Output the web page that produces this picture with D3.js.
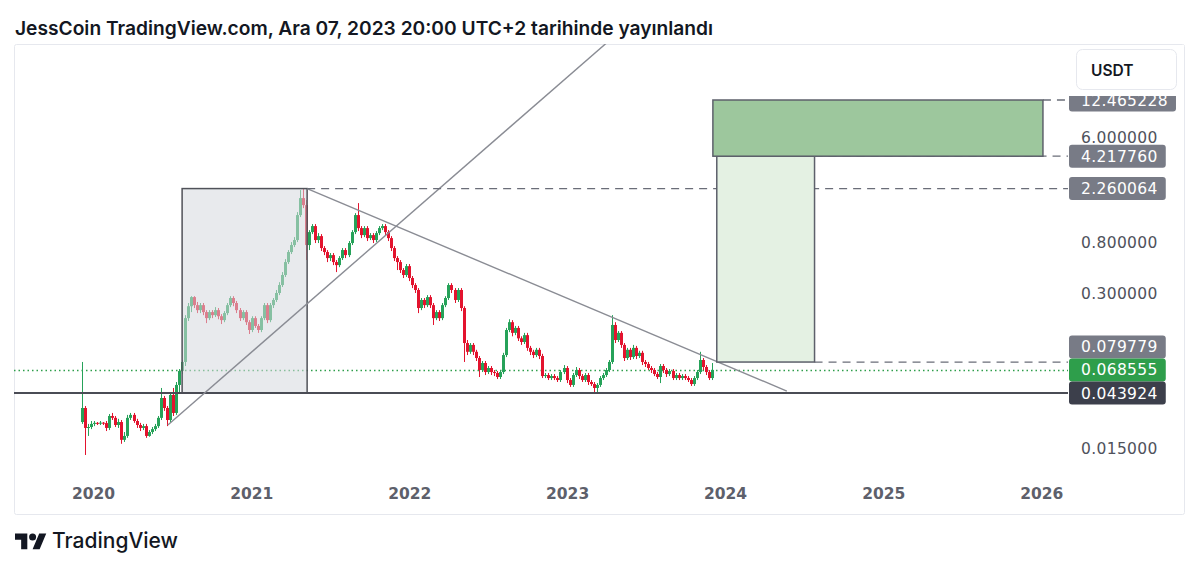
<!DOCTYPE html>
<html><head><meta charset="utf-8">
<script src="https://cdn.jsdelivr.net/npm/d3@7"></script>
<style>
html,body{margin:0;padding:0;background:#fff;}
svg{display:block;}
</style></head><body>
<svg id="c" width="1200" height="570"></svg>
<script>
// ---------- DATA ----------
const titleText = "JessCoin TradingView.com, Ara 07, 2023 20:00 UTC+2 tarihinde yayınlandı";
const firstWeek = "2019-12-09";
const firstOpen = 0.0251;
const closes = [
0.0329,0.0224,0.0228,0.0242,0.0247,0.0245,0.0248,0.0246,0.0224,0.0282,
0.0272,0.0237,0.0251,0.0178,0.0192,0.0272,0.0288,0.0256,0.0237,0.0224,
0.0232,0.0192,0.0207,0.0219,0.0232,0.0272,0.0399,0.0329,0.0261,0.0423,
0.0299,0.0513,0.0671,0.0799,0.186,0.234,0.279,0.239,0.217,0.239,
0.209,0.186,0.209,0.197,0.217,0.193,0.179,0.205,0.239,0.274,
0.249,0.217,0.186,0.209,0.172,0.148,0.186,0.160,0.148,0.186,
0.239,0.179,0.239,0.264,0.302,0.352,0.427,0.548,0.665,0.761,
0.838,1.356,1.881,1.643,0.761,0.977,1.097,0.838,0.904,0.718,
0.665,0.592,0.627,0.548,0.517,0.592,0.691,0.627,0.791,0.977,
1.356,1.055,0.922,1.055,0.870,0.922,0.838,0.958,1.055,1.097,
0.977,0.870,0.718,0.592,0.548,0.470,0.427,0.507,0.403,0.352,
0.320,0.226,0.264,0.239,0.279,0.239,0.186,0.209,0.186,0.239,
0.274,0.352,0.320,0.264,0.320,0.226,0.1151,0.0972,0.111,0.0972,
0.0862,0.0684,0.0783,0.0658,0.0711,0.0658,0.0646,0.0598,0.0658,0.0913,
0.148,0.172,0.140,0.154,0.126,0.1174,0.134,0.1048,0.0972,0.0913,
0.101,0.0896,0.0609,0.0621,0.0586,0.0609,0.0586,0.0564,0.0658,0.0711,
0.0564,0.0513,0.0621,0.0684,0.0609,0.0564,0.0621,0.0543,0.0522,0.0484,
0.0513,0.0586,0.0621,0.0684,0.0799,0.163,0.122,0.140,0.111,0.0862,
0.101,0.0878,0.1048,0.0896,0.0953,0.0799,0.0768,0.0711,0.0684,0.0633,
0.0598,0.0739,0.0684,0.0633,0.0671,0.0586,0.0621,0.0586,0.0609,0.0586,
0.0564,0.0522,0.0586,0.0658,0.0830,0.0725,0.0658,0.0586,0.068555
];
const highs = [
0.0799,0.0342,0.0242,0.0256,0.0256,0.0251,0.0256,0.0251,0.0256,0.0293,
0.0299,0.0282,0.0267,0.0261,0.0207,0.0288,0.0299,0.0299,0.0267,0.0247,
0.0242,0.0242,0.0215,0.0228,0.0242,0.0282,0.0484,0.0415,0.0342,0.0439,
0.0484,0.0543,0.0697,0.0830,0.197,0.249,0.284,0.284,0.254,0.249,
0.249,0.217,0.217,0.217,0.230,0.226,0.201,0.213,0.249,0.284,
0.284,0.259,0.226,0.217,0.217,0.179,0.193,0.193,0.166,0.193,
0.249,0.249,0.249,0.274,0.320,0.372,0.452,0.580,0.691,0.806,
0.887,1.436,2.195,2.260064,1.810,1.015,1.140,1.140,0.958,0.940,
0.746,0.691,0.652,0.652,0.570,0.615,0.718,0.718,0.822,1.015,
1.408,1.708,1.097,1.097,1.097,0.958,0.958,0.996,1.097,1.140,
1.140,1.015,0.904,0.746,0.615,0.570,0.488,0.528,0.528,0.419,
0.365,0.332,0.274,0.274,0.290,0.290,0.249,0.217,0.217,0.249,
0.284,0.365,0.365,0.332,0.332,0.332,0.234,0.122,0.1151,0.1151,
0.101,0.0896,0.0814,0.0814,0.0739,0.0739,0.0684,0.0671,0.0684,0.0953,
0.154,0.182,0.179,0.160,0.160,0.131,0.140,0.140,0.1089,0.101,
0.1048,0.1048,0.0935,0.0646,0.0646,0.0633,0.0633,0.0609,0.0684,0.0753,
0.0739,0.0586,0.0646,0.0725,0.0711,0.0633,0.0646,0.0646,0.0564,0.0543,
0.0532,0.0609,0.0646,0.0711,0.0830,0.197,0.172,0.145,0.145,0.1151,
0.1048,0.1048,0.111,0.1089,0.0991,0.0991,0.0830,0.0799,0.0739,0.0711,
0.0658,0.0768,0.0768,0.0711,0.0697,0.0697,0.0646,0.0646,0.0633,0.0633,
0.0609,0.0586,0.0609,0.0684,0.0972,0.0862,0.0753,0.0684,0.0783
];
const lows = [
0.0242,0.0133,0.0192,0.0219,0.0232,0.0237,0.0237,0.0237,0.0211,0.0215,
0.0261,0.0228,0.0224,0.0165,0.0171,0.0185,0.0261,0.0247,0.0224,0.0211,
0.0215,0.0185,0.0189,0.0199,0.0211,0.0224,0.0261,0.0311,0.0232,0.0251,
0.0282,0.0288,0.0448,0.0633,0.0739,0.176,0.209,0.226,0.205,0.205,
0.197,0.169,0.179,0.186,0.190,0.182,0.166,0.172,0.197,0.230,
0.234,0.205,0.176,0.179,0.163,0.137,0.142,0.154,0.140,0.142,
0.179,0.169,0.172,0.226,0.254,0.290,0.339,0.411,0.528,0.640,
0.732,0.806,1.305,1.551,0.570,0.691,0.940,0.791,0.791,0.678,
0.627,0.548,0.559,0.517,0.452,0.497,0.570,0.592,0.603,0.761,
0.940,0.996,0.870,0.887,0.822,0.838,0.791,0.806,0.922,1.015,
0.922,0.822,0.678,0.559,0.470,0.444,0.403,0.411,0.380,0.332,
0.302,0.205,0.217,0.226,0.230,0.226,0.163,0.179,0.176,0.179,
0.230,0.264,0.302,0.249,0.254,0.213,0.0799,0.0913,0.0935,0.0913,
0.0814,0.0598,0.0658,0.0621,0.0633,0.0621,0.0609,0.0575,0.0575,0.0633,
0.0878,0.142,0.131,0.134,0.1197,0.111,0.1129,0.0991,0.0913,0.0862,
0.0878,0.0845,0.0586,0.0586,0.0564,0.0564,0.0564,0.0543,0.0543,0.0633,
0.0532,0.0494,0.0494,0.0598,0.0575,0.0543,0.0543,0.0513,0.0503,0.0432,
0.0445,0.0494,0.0564,0.0598,0.0658,0.0768,0.1151,0.1174,0.1048,0.0814,
0.0830,0.0830,0.0845,0.0845,0.0862,0.0753,0.0725,0.0684,0.0646,0.0609,
0.0575,0.0532,0.0646,0.0598,0.0609,0.0564,0.0564,0.0564,0.0564,0.0564,
0.0543,0.0503,0.0503,0.0564,0.0633,0.0684,0.0621,0.0564,0.0564
];
const yearTicks = ["2020","2021","2022","2023","2024","2025","2026"];
const priceTicks = [0.015, 0.3, 0.8, 6];
const levelValues = [12.465228, 4.21776, 2.260064, 0.079779, 0.068555, 0.043924];
const currency = "USDT";
// drawings (date, price pairs)
const boxDates = ["2020-07-25", "2021-05-10"];
const boxPrices = [0.043924, 2.260064];
const riseDates = ["2020-06-22", "2021-11-15"];
const risePrices = [0.0237, 0.969];
const fallDates = ["2021-05-10", "2024-05-23"];
const fallPrices = [2.260064, 0.0456];
const targetDates = ["2023-12-04", "2026-01-05"];
const targetPrices = [4.21776, 12.465228];
const entryDates = ["2023-12-13", "2024-07-26"];
const entryPrices = [0.079779, 4.21776];

// ---------- CHART ----------
const svg = d3.select("#c");
const W = 1200, H = 570;
const plotL = 14, plotR = 1068, plotT = 44, plotB = 480;
const UP = "#26a259", DOWN = "#e3132e";
const pd = s => new Date(s + "T00:00:00Z");

const x = d3.scaleUtc().domain([pd("2020-01-01"), pd("2024-01-01")]).range([93, 725]);
const y = d3.scaleLog().domain([0.043924, 12.465228]).range([393, 100]);

svg.append("rect").attr("width", W).attr("height", H).attr("fill", "#fff");

// title
svg.append("text").attr("x", 15).attr("y", 35)
  .attr("font-family", "Inter, 'Open Sans', sans-serif").attr("font-weight", 600)
  .attr("font-size", 19.2).attr("fill", "#131722").text(titleText);

// frame
svg.append("rect").attr("x", 14.5).attr("y", 44.5).attr("width", 1170).attr("height", 470)
  .attr("fill", "none").attr("stroke", "#e6e8ee").attr("stroke-width", 1).attr("rx", 2);

const defs = svg.append("defs");
defs.append("clipPath").attr("id", "plot").append("rect")
  .attr("x", plotL).attr("y", plotT).attr("width", plotR - plotL).attr("height", plotB - plotT);
defs.append("clipPath").attr("id", "taxis").append("rect")
  .attr("x", plotL).attr("y", 480).attr("width", plotR - plotL).attr("height", 35);

const plot = svg.append("g").attr("clip-path", "url(#plot)");

// last price dotted line
plot.append("line").attr("x1", plotL).attr("x2", plotR)
  .attr("y1", Math.round(y(levelValues[4])) + 0.5).attr("y2", Math.round(y(levelValues[4])) + 0.5)
  .attr("stroke", "#2e9e4b").attr("stroke-width", 1.3).attr("stroke-dasharray", "1.5,3");

// candles
const start = pd(firstWeek);
const bars = closes.map((c, i) => {
  const o = i ? closes[i - 1] : firstOpen;
  return { t: d3.utcDay.offset(start, 7 * i), o, c,
    h: Math.max(highs[i], o, c), l: Math.min(lows[i], o, c) };
});
const cg = plot.append("g");
bars.forEach(b => {
  const cx = Math.round(x(b.t));
  const col = b.c >= b.o ? UP : DOWN;
  cg.append("rect").attr("x", cx - 1).attr("width", 1)
    .attr("y", y(b.h)).attr("height", Math.max(1, y(b.l) - y(b.h))).attr("fill", col);
  const top = y(Math.max(b.o, b.c)), bot = y(Math.min(b.o, b.c));
  cg.append("rect").attr("x", cx - 2).attr("width", 3)
    .attr("y", top).attr("height", Math.max(1, bot - top)).attr("fill", col);
});

// gray rectangle
plot.append("rect")
  .attr("x", x(pd(boxDates[0]))).attr("y", y(boxPrices[1]))
  .attr("width", x(pd(boxDates[1])) - x(pd(boxDates[0])))
  .attr("height", y(boxPrices[0]) - y(boxPrices[1]))
  .attr("fill", "rgba(214,216,223,0.55)").attr("stroke", "#505259").attr("stroke-width", 1.5);

// baseline (0.043924) horizontal line
plot.append("line").attr("x1", plotL).attr("x2", plotR)
  .attr("y1", y(levelValues[5])).attr("y2", y(levelValues[5]))
  .attr("stroke", "#4a4c55").attr("stroke-width", 1.8);

// rising trend line (extended)
{
  const x1 = x(pd(riseDates[0])), y1 = y(risePrices[0]);
  const x2 = x(pd(riseDates[1])), y2 = y(risePrices[1]);
  const k = 4;
  plot.append("line").attr("x1", x1).attr("y1", y1)
    .attr("x2", x1 + (x2 - x1) * k).attr("y2", y1 + (y2 - y1) * k)
    .attr("stroke", "#8a8c94").attr("stroke-width", 1.4);
}
// falling trend line
plot.append("line")
  .attr("x1", x(pd(fallDates[0]))).attr("y1", y(fallPrices[0]))
  .attr("x2", x(pd(fallDates[1]))).attr("y2", y(fallPrices[1]))
  .attr("stroke", "#8a8c94").attr("stroke-width", 1.4);

// dashed level lines
const dash = (d0, v) => plot.append("line")
  .attr("x1", x(pd(d0))).attr("x2", plotR).attr("y1", y(v)).attr("y2", y(v))
  .attr("stroke", "#6a6d78").attr("stroke-width", 1.3).attr("stroke-dasharray", "8,6");
dash(boxDates[1], levelValues[2]);
dash(entryDates[1], levelValues[1]);
dash(entryDates[1], levelValues[3]);
dash(targetDates[1], levelValues[0]);

// entry (light green) rectangle
plot.append("rect")
  .attr("x", x(pd(entryDates[0]))).attr("y", y(entryPrices[1]))
  .attr("width", x(pd(entryDates[1])) - x(pd(entryDates[0])))
  .attr("height", y(entryPrices[0]) - y(entryPrices[1]))
  .attr("fill", "#e4f1e3").attr("stroke", "#5d606b").attr("stroke-width", 1.5);
// target (dark green) rectangle
plot.append("rect")
  .attr("x", x(pd(targetDates[0]))).attr("y", y(targetPrices[1]))
  .attr("width", x(pd(targetDates[1])) - x(pd(targetDates[0])))
  .attr("height", y(targetPrices[0]) - y(targetPrices[1]))
  .attr("fill", "#9dc79d").attr("stroke", "#5d606b").attr("stroke-width", 1.5);

// time axis
const xAxis = d3.axisBottom(x)
  .tickValues(yearTicks.map(s => pd(s + "-01-01")))
  .tickFormat(d3.utcFormat("%Y")).tickSize(0).tickPadding(0);
const xg = svg.append("g").attr("clip-path", "url(#taxis)")
  .append("g").attr("transform", "translate(0,488)").call(xAxis);
xg.select(".domain").remove();
xg.selectAll("text").attr("font-family", "'DejaVu Sans', sans-serif").attr("font-weight", "bold")
  .attr("font-size", 15.5).attr("fill", "#5d606b");

// price axis
const yAxis = d3.axisRight(y).tickValues(priceTicks)
  .tickFormat(d => d.toFixed(6)).tickSize(0).tickPadding(13);
const yg = svg.append("g").attr("transform", `translate(${plotR},0)`).call(yAxis);
yg.select(".domain").remove();
yg.selectAll("text").attr("font-family", "'DejaVu Sans', sans-serif")
  .attr("font-size", 15.5).attr("letter-spacing", 0.35).attr("fill", "#4f525c");

// level labels with collision handling (bottom-up)
const labelFill = ["#787b86", "#787b86", "#787b86", "#787b86", "#2e9e4b", "#3c3f4b"];
const boxH = 23;
const order = levelValues.map((v, i) => i).sort((a, b) => y(levelValues[b]) - y(levelValues[a]));
const centers = [];
let limit = Infinity;
order.forEach(i => {
  let c = y(levelValues[i]);
  if (c + boxH / 2 > limit) c = limit - boxH / 2;
  centers[i] = c;
  limit = c - boxH / 2;
});
const lg = svg.append("g");
levelValues.forEach((v, i) => {
  const g = lg.append("g");
  const r = g.append("rect").attr("x", 1069).attr("y", centers[i] - boxH / 2)
    .attr("height", boxH).attr("rx", 3).attr("fill", labelFill[i]);
  const t = g.append("text").attr("x", 1081).attr("y", centers[i]).attr("dy", "0.36em")
    .attr("font-family", "'DejaVu Sans', sans-serif").attr("font-size", 15.5)
    .attr("letter-spacing", 0.35).attr("fill", "#fff").text(v.toFixed(6));
  const w = t.node().getComputedTextLength();
  r.attr("width", w + 20);
});

// currency button (covers top of axis)
svg.append("rect").attr("x", 1068).attr("y", 45).attr("width", 116).attr("height", 51).attr("fill", "#fff");
svg.append("rect").attr("x", 1076.5).attr("y", 49.5).attr("width", 100).attr("height", 40)
  .attr("rx", 6).attr("fill", "#fff").attr("stroke", "#e6e8ee");
svg.append("text").attr("x", 1091).attr("y", 75.5)
  .attr("font-family", "Inter, sans-serif").attr("font-weight", 600)
  .attr("font-size", 15.5).attr("fill", "#131722").text(currency);

// footer logo
const logo = svg.append("g").attr("transform", "translate(15,530) scale(0.88)").attr("fill", "#131722");
logo.append("path").attr("d", "M14 22H7V11H0V4h14v18zM28 22h-8l7.5-18h8L28 22z");
logo.append("circle").attr("cx", 20).attr("cy", 8).attr("r", 4);
svg.append("text").attr("x", 52).attr("y", 548)
  .attr("font-family", "Inter, sans-serif").attr("font-weight", 500)
  .attr("font-size", 21).attr("fill", "#131722").text("TradingView");
</script>
</body></html>
